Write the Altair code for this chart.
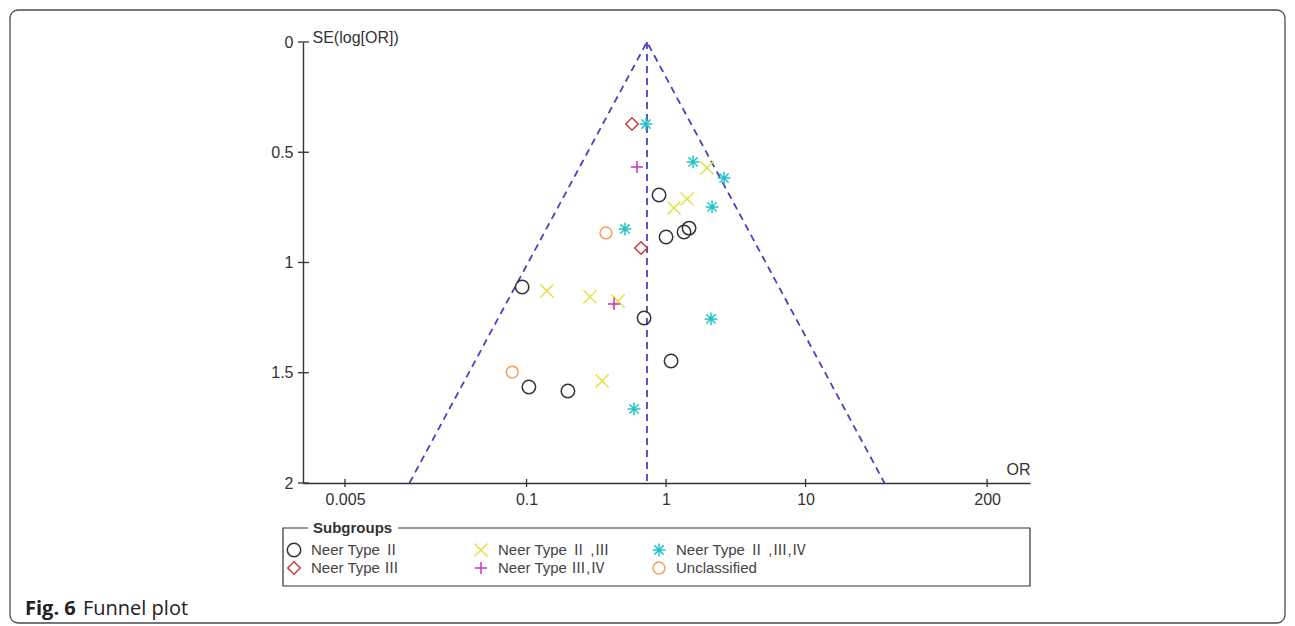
import math
import altair as alt
import pandas as pd

# ---------------- data ----------------
groups = ["Neer Type Ⅱ", "Neer Type Ⅱ ,Ⅲ", "Neer Type Ⅱ ,Ⅲ,Ⅳ",
          "Neer Type Ⅲ", "Neer Type Ⅲ,Ⅳ", "Unclassified"]

or_type2 = [0.891, 1.00, 1.346, 1.462, 0.093, 0.696, 1.086, 0.104, 0.198]
se_type2 = [0.694, 0.884, 0.862, 0.844, 1.111, 1.252, 1.447, 1.565, 1.583]

or_type23 = [1.967, 1.415, 1.141, 0.140, 0.285, 0.453, 0.348]
se_type23 = [0.571, 0.712, 0.753, 1.129, 1.156, 1.175, 1.537]

or_type234 = [0.719, 1.562, 2.606, 2.137, 0.508, 2.100, 0.590]
se_type234 = [0.372, 0.544, 0.617, 0.748, 0.848, 1.256, 1.664]

or_type3 = [0.570, 0.662]
se_type3 = [0.372, 0.934]

or_type34 = [0.619, 0.424]
se_type34 = [0.567, 1.188]

or_uncl = [0.371, 0.079]
se_uncl = [0.866, 1.497]

pooled_or = 0.73
se_max = 2.0

x_ticks = [0.005, 0.1, 1, 10, 200]
y_ticks = [0, 0.5, 1, 1.5, 2]

# ---------------- tables ----------------
rows = []
for g, ors, ses in zip(groups,
                       [or_type2, or_type23, or_type234, or_type3, or_type34, or_uncl],
                       [se_type2, se_type23, se_type234, se_type3, se_type34, se_uncl]):
    for o, s in zip(ors, ses):
        rows.append({"group": g, "OR": o, "SE": s})
pts = pd.DataFrame(rows)

lo = pooled_or * math.exp(-1.96 * se_max)
hi = pooled_or * math.exp(1.96 * se_max)
funnel = pd.DataFrame({
    "OR": [lo, pooled_or, hi, pooled_or, pooled_or],
    "SE": [se_max, 0, se_max, 0, se_max],
    "line": ["a", "a", "a", "b", "b"],
    "order": [0, 1, 2, 0, 1],
})
xt = pd.DataFrame({"OR": x_ticks})
yt = pd.DataFrame({"SE": y_ticks})
one = alt.Data(values=[{}])

# ---------------- scales / axes ----------------
W, H = 727, 441
FONT = "Liberation Sans, Noto Sans CJK SC, DejaVu Sans"

xs = alt.Scale(type="log", domain=[0.0025, 406], nice=False)
ys = alt.Scale(domain=[0, 2], reverse=True, nice=False, zero=False)

x_axis = alt.Axis(values=x_ticks, format="~g", title="OR", titleX=W, titleY=-6,
                  titleAlign="right", titleBaseline="bottom", zindex=2,
                  labelPadding=8, labelFlush=False, ticks=False, grid=False)
y_axis = alt.Axis(values=y_ticks, format="~g", title="SE(log[OR])",
                  titleAngle=0, titleAlign="left", titleBaseline="middle", zindex=2,
                  titleX=9, titleY=-5, labelPadding=10, ticks=False, grid=False)

X = alt.X("OR:Q", scale=xs, axis=x_axis, title="OR")
Y = alt.Y("SE:Q", scale=ys, axis=y_axis, title="SE(log[OR])")

shape_scale = alt.Scale(domain=groups, range=[
    "circle",
    "M-1,-1L1,1M-1,1L1,-1",
    "M-1,0L1,0M0,-1L0,1M-0.72,-0.72L0.72,0.72M-0.72,0.72L0.72,-0.72",
    "diamond",
    "M-1,0L1,0M0,-1L0,1",
    "circle",
])
color_scale = alt.Scale(domain=groups, range=[
    "#333333", "#e2e244", "#22c3c8", "#cc3b3b", "#c434c4", "#f0a060"])
size_scale = alt.Scale(domain=groups, range=[180, 140, 170, 220, 160, 180])

# ---------------- layers ----------------
frame = alt.Chart(one).mark_rect(filled=False, stroke="#4a4a4a", strokeWidth=1.3,
                                 cornerRadius=8).encode(
    x=alt.value(-293), x2=alt.value(982), y=alt.value(-32), y2=alt.value(581))

funnel_lines = alt.Chart(funnel).mark_line(
    color="#4444c0", strokeWidth=1.8, strokeDash=[7, 5]).encode(
    x=X, y=Y, detail="line:N", order="order:Q")

xtick_marks = alt.Chart(xt).mark_rule(color="#333", strokeWidth=1.3).encode(
    x=X, y=alt.value(H - 4), y2=alt.value(H + 4))
ytick_marks = alt.Chart(yt).mark_rule(color="#333", strokeWidth=1.3).encode(
    y=Y, x=alt.value(-5), x2=alt.value(6))

points = alt.Chart(pts).mark_point(filled=False, strokeWidth=1.5, opacity=1).encode(
    x=X, y=Y,
    shape=alt.Shape("group:N", scale=shape_scale, legend=None),
    color=alt.Color("group:N", scale=color_scale, legend=None),
    size=alt.Size("group:N", scale=size_scale, legend=None),
)

# legend (boxed, title sitting on the border)
LX0, LX1, LY0, LY1 = -20, W, 486, 544
legend_box = alt.Chart(one).mark_rect(fill="white", stroke="#333", strokeWidth=1.2).encode(
    x=alt.value(LX0), x2=alt.value(LX1), y=alt.value(LY0), y2=alt.value(LY1))
legend_gap = alt.Chart(one).mark_rect(fill="white").encode(
    x=alt.value(5), x2=alt.value(95), y=alt.value(LY0 - 2), y2=alt.value(LY0 + 2))
legend_title = alt.Chart(one).mark_text(
    text="Subgroups", align="left", baseline="middle", font=FONT, fontSize=15,
    fontWeight="bold", color="#333").encode(x=alt.value(10), y=alt.value(LY0))

col_x = [-9, 178, 356]
row_y = [508, 526]
legend_layers = []
for i, g in enumerate(groups):
    cx = col_x[i % 3]
    cy = row_y[i // 3]
    d = alt.Data(values=[{"group": g}])
    legend_layers.append(alt.Chart(d).mark_point(filled=False, strokeWidth=1.5, opacity=1).encode(
        x=alt.value(cx), y=alt.value(cy),
        shape=alt.Shape("group:N", scale=shape_scale, legend=None),
        color=alt.Color("group:N", scale=color_scale, legend=None),
        size=alt.Size("group:N", scale=size_scale, legend=None)))
    legend_layers.append(alt.Chart(d).mark_text(
        align="left", baseline="middle", font=FONT, fontSize=15, color="#444").encode(
        x=alt.value(cx + 17), y=alt.value(cy), text="group:N"))

cap1 = alt.Chart(one).mark_text(text="Fig. 6", align="left", baseline="alphabetic",
                                font="Open Sans", fontSize=20, fontWeight="bold",
                                color="#222").encode(x=alt.value(-278), y=alt.value(573))
cap2 = alt.Chart(one).mark_text(text="Funnel plot", align="left", baseline="alphabetic",
                                font="Open Sans", fontSize=20, color="#222").encode(
    x=alt.value(-220), y=alt.value(573))

chart = alt.layer(
    frame, funnel_lines, xtick_marks, ytick_marks, points,
    legend_box, legend_gap, legend_title, *legend_layers, cap1, cap2,
).properties(
    width=W, height=H,
    padding={"left": 295, "top": 34, "right": 257, "bottom": 143},
    autosize=alt.AutoSizeParams(type="none"),
    background="white",
).configure_view(stroke=None).configure_axis(
    labelFont=FONT, labelFontSize=16, labelColor="#333",
    titleFont=FONT, titleFontSize=16, titleColor="#333", titleFontWeight="normal",
    domainColor="#333", domainWidth=1.4,
)

chart.save("out.html", embed_options={"renderer": "svg", "actions": False})
